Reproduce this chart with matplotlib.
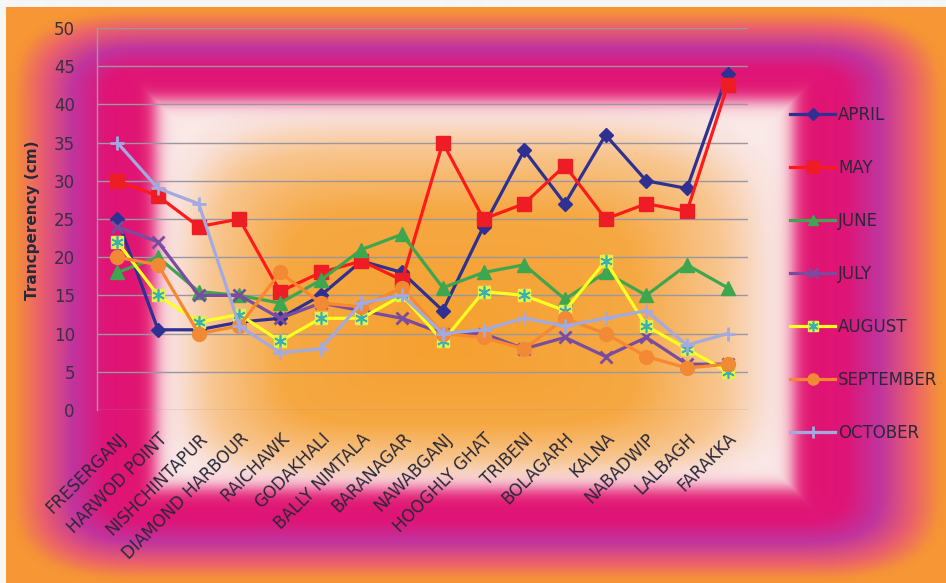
import numpy as np
import matplotlib
matplotlib.use("Agg")
import matplotlib.pyplot as plt

# Sampling stations along the river, downstream to upstream
stations = ["FRESERGANJ", "HARWOD POINT", "NISHCHINTAPUR", "DIAMOND HARBOUR",
            "RAICHAWK", "GODAKHALI", "BALLY NIMTALA", "BARANAGAR", "NAWABGANJ",
            "HOOGHLY GHAT", "TRIBENI", "BOLAGARH", "KALNA", "NABADWIP",
            "LALBAGH", "FARAKKA"]

# Transparency (cm) per month
april = [25, 10.5, 10.5, 11.5, 12, 15, 19.5, 18, 13, 24, 34, 27, 36, 30, 29, 44]
may = [30, 28, 24, 25, 15.5, 18, 19.5, 17, 35, 25, 27, 32, 25, 27, 26, 42.5]
june = [18, 20, 15.5, 15, 14, 17, 21, 23, 16, 18, 19, 14.5, 18, 15, 19, 16]
july = [24, 22, 15, 15, 12, 14, 13, 12, 10, 10, 8, 9.5, 7, 9.5, 6, 6]
august = [22, 15, 11.5, 12.5, 9, 12, 12, 15, 9, 15.5, 15, 13, 19.5, 11, 8, 5]
september = [20, 19, 10, 11, 18, 14, 13.5, 16, 10, 9.5, 8, 12, 10, 7, 5.5, 6]
october = [35, 29, 27, 11, 7.5, 8, 14, 15, 10, 10.5, 12, 11, 12, 13, 8.5, 10]

months = ["APRIL", "MAY", "JUNE", "JULY", "AUGUST", "SEPTEMBER", "OCTOBER"]
series = [april, may, june, july, august, september, october]

W, H = 946, 583

# ---- background: pink/orange frame around a pale panel with an orange glow ----
yy, xx = np.mgrid[0:H, 0:W].astype(float)
L, T, R, B = 155.0, 100.0, 792.0, 488.0

sx = np.clip(np.maximum((L - xx) / (L - 7), (xx - R) / (W - R)), 0, None)
sy = np.clip(np.maximum((T - yy) / (T - 7), (yy - B) / (H - B)), 0, None)
s = np.clip((sx ** 3 + sy ** 3) ** (1 / 3), 0, 1)

def ramp(v, stops, cols):
    cols = np.array(cols, dtype=float)
    out = np.zeros(v.shape + (3,))
    for k in range(3):
        out[..., k] = np.interp(v, stops, cols[:, k])
    return out

outer = ramp(s, [0, 0.35, 0.56, 0.78, 0.95, 1.0],
             [(226, 16, 108), (222, 22, 120), (192, 52, 158),
              (234, 96, 108), (245, 146, 56), (246, 150, 52)])

cx, cy = 440.0, 345.0
tx = np.where(xx < cx, (cx - xx) / (cx - L), (xx - cx) / (R - cx))
ty = np.where(yy < cy, (cy - yy) / (cy - T), (yy - cy) / (B - cy))
t = np.clip((np.abs(tx) ** 5 + np.abs(ty) ** 5) ** 0.2, 0, 1)
inner = ramp(t, [0, 0.55, 0.8, 0.93, 1.0],
             [(245, 160, 48), (246, 168, 66), (248, 198, 145),
              (249, 226, 218), (250, 234, 232)])

e = np.minimum(np.minimum(xx - L, R - xx), np.minimum(yy - T, B - yy))
w = 1.0 / (1.0 + np.exp(-e / 5.0))
bg = w[..., None] * inner + (1 - w[..., None]) * outer
bg[:7, :] = 246
bg[:, :6] = 246
bg = bg / 255.0

fig = plt.figure(figsize=(W / 100, H / 100), dpi=100)
bgax = fig.add_axes([0, 0, 1, 1], zorder=0)
bgax.imshow(bg, aspect="auto", interpolation="bilinear")
bgax.axis("off")

ax = fig.add_axes([97 / W, 1 - 410 / H, (748 - 97) / W, (410 - 28) / H],
                  zorder=2)
ax.patch.set_alpha(0)

styles = [
    dict(color="#2E3192", marker="D", ms=7.5, mfc="#2E3192", mec="#2E3192"),
    dict(color="#FF1A1A", marker="s", ms=10, mfc="#EE1C24", mec="#EE1C24"),
    dict(color="#3DA64F", marker="^", ms=9.5, mfc="#3DA64F", mec="#3DA64F"),
    dict(color="#7A4CA0", marker="x", ms=9, mew=2, mec="#7A4CA0"),
    dict(color="#FFFF20", marker="s", ms=9, mfc="#E6F04A", mec="#E6F04A"),
    dict(color="#F7882F", marker="o", ms=10, mfc="#F28A35", mec="#F28A35"),
    dict(color="#A2AAE0", marker="+", ms=10, mew=2, mec="#A2AAE0"),
]

x = np.arange(len(stations))
handles = []
for name, vals, st in zip(months, series, styles):
    ln, = ax.plot(x, vals, lw=2.3, label=name, zorder=3, **st)
    if name == "AUGUST":
        star, = ax.plot(x, vals, ls="none", marker=(6, 2, 0), ms=9, mew=1.2,
                        color="#3AAFB0", zorder=3)
        handles.append((ln, star))
    else:
        handles.append(ln)

ax.set_xlim(-0.5, len(stations) - 0.5)
ax.set_ylim(0, 50)
ax.set_yticks(np.arange(0, 51, 5))
ax.set_xticks(x)
ax.set_xticklabels(stations, rotation=45, ha="right", rotation_mode="anchor",
                   fontsize=12, color="#2A2838")
ax.tick_params(axis="y", length=0, pad=16, labelsize=12, labelcolor="#3A3040")
ax.tick_params(axis="x", length=0, pad=14)
ax.grid(axis="y", color="#9C96A0", lw=1)
ax.set_axisbelow(True)
for sp in ["top", "right", "bottom"]:
    ax.spines[sp].set_visible(False)
ax.spines["left"].set_color("#A09AA8")
ax.spines["left"].set_linewidth(1)

fig.text(33 / W, 1 - 220 / H, "Trancperency (cm)", rotation=90, ha="center",
         va="center", fontsize=11, fontweight="bold", color="#2A2838",
         zorder=3)

leg = fig.legend(handles, months, loc="center left",
                 bbox_to_anchor=(790 / W, 1 - 274 / H), frameon=False,
                 fontsize=12, labelspacing=2.1, handlelength=2.7,
                 handletextpad=0.2, borderpad=0, borderaxespad=0,
                 markerscale=0.8, labelcolor="#2A2838")
leg.set_zorder(3)

fig.savefig("out.png", dpi=100)
